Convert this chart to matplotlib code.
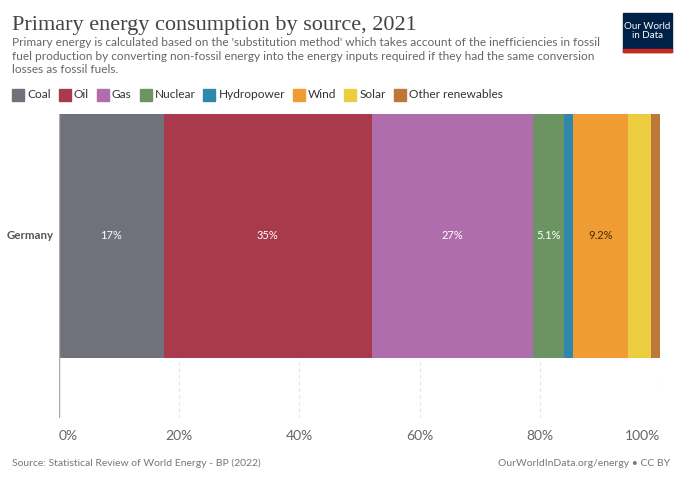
import matplotlib.pyplot as plt
from matplotlib.patches import Rectangle

# Data
sources = ['Coal', 'Oil', 'Gas', 'Nuclear', 'Hydropower', 'Wind', 'Solar', 'Other renewables']
shares = [17.4, 34.6, 26.9, 5.1, 1.5, 9.2, 3.8, 1.5]
bar_labels = ['17%', '35%', '27%', '5.1%', '', '9.2%', '', '']
colors = ['#6f717b', '#a83a4b', '#b06dab', '#6b9462', '#2f87ad', '#ee9c33', '#eccd40', '#bd7738']
label_colors = ['white', 'white', 'white', 'white', 'white', '#4a2a00', 'white', 'white']
country = 'Germany'
xticks = [0, 20, 40, 60, 80, 100]

plt.rcParams['font.family'] = ['Lato', 'DejaVu Sans']

fig = plt.figure(figsize=(6.8, 4.8), dpi=100)
ax = fig.add_axes([59 / 680, 1 - 418 / 480, 601 / 680, 304 / 480])

# Stacked horizontal bar
left = 0
for val, col, lab, lc in zip(shares, colors, bar_labels, label_colors):
    ax.barh(0, val, left=left, height=1.0, color=col, zorder=2)
    if lab:
        ax.text(left + val / 2, 0, lab, ha='center', va='center', color=lc, fontsize=8, zorder=3)
    left += val

ax.set_xlim(0, 100)
ax.set_ylim(-0.746, 0.5)

# Grid and axes styling
for t in xticks[1:]:
    ax.axvline(t, color='#e3e3e3', lw=0.8, ls=(0, (3, 3)), zorder=1)
ax.axvline(0, color='#aaaaaa', lw=1, zorder=3)
for s in ax.spines.values():
    s.set_visible(False)
ax.set_yticks([])
ax.set_xticks(xticks)
ax.set_xticklabels([f'{t}%' for t in xticks], color='#666666', fontsize=10)
ax.tick_params(axis='x', length=0, pad=9)
tl = ax.get_xticklabels()
tl[0].set_ha('left')
tl[-1].set_ha('right')

ax.text(-0.9, 0, country, ha='right', va='center', fontsize=8.3, fontweight='bold', color='#555555')

# Title and subtitle
fig.text(12 / 680, 1 - 30 / 480, 'Primary energy consumption by source, 2021',
         family='Liberation Serif', fontsize=16, color='#444444', va='baseline')
subtitle = ("Primary energy is calculated based on the 'substitution method' which takes account of the inefficiencies in fossil\n"
            "fuel production by converting non-fossil energy into the energy inputs required if they had the same conversion\n"
            "losses as fossil fuels.")
fig.text(12 / 680, 1 - 37 / 480, subtitle, fontsize=8.6, color='#666666', va='top', linespacing=1.3)

# Legend
x = 12
legend_y = 1 - 95 / 480
renderer = fig.canvas.get_renderer()
for name, col in zip(sources, colors):
    fig.patches.append(Rectangle((x / 680, legend_y - 6 / 480), 12 / 680, 12 / 480,
                                 transform=fig.transFigure, color=col, figure=fig))
    t = fig.text((x + 15) / 680, legend_y, name, fontsize=8.6, color='#333333', va='center')
    w = t.get_window_extent(renderer).width
    x += 15 + w + 8

# Logo
fig.patches.append(Rectangle((623 / 680, 1 - 52 / 480), 49 / 680, 39 / 480,
                             transform=fig.transFigure, color='#002147', figure=fig))
fig.patches.append(Rectangle((623 / 680, 1 - 52 / 480), 49 / 680, 3 / 480,
                             transform=fig.transFigure, color='#ce261e', figure=fig))
fig.text(647.5 / 680, 1 - 31 / 480, 'Our World\nin Data', ha='center', va='center',
         fontsize=7, color='white', linespacing=1.0)

# Footer
fig.text(12 / 680, 1 - 463 / 480, 'Source: Statistical Review of World Energy - BP (2022)',
         fontsize=7.5, color='#777777', va='center')
fig.text(670 / 680, 1 - 463 / 480, 'OurWorldInData.org/energy • CC BY',
         fontsize=7.5, color='#777777', va='center', ha='right')

fig.savefig('out.png', dpi=100)
